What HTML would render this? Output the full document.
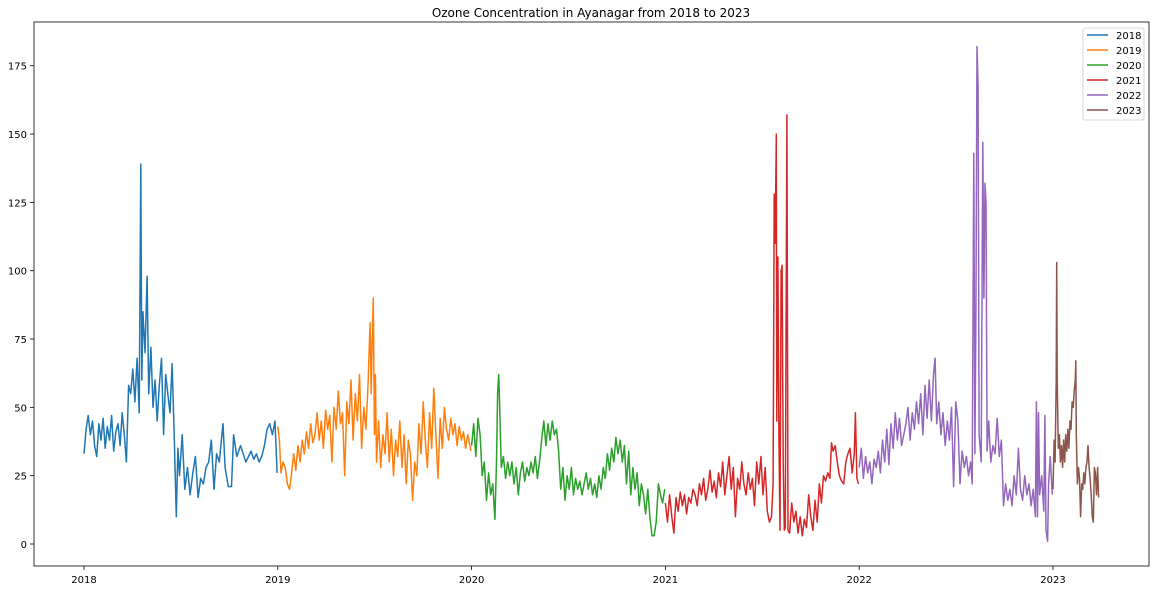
<!DOCTYPE html>
<html><head><meta charset="utf-8"><style>
body{margin:0;background:#fff;font-family:"Liberation Sans","DejaVu Sans",sans-serif;}
svg text{font-family:"DejaVu Sans","Liberation Sans",sans-serif;}
</style></head><body>
<svg id="chart" width="1156" height="590">
<text x="591" y="17" font-size="12" text-anchor="middle">Ozone Concentration in Ayanagar from 2018 to 2023</text>
<g id="axes"></g><g id="lines"></g>
<rect x="34" y="22" width="1115" height="544" fill="none" stroke="#000" stroke-width="0.8"/>
<g id="legend"></g>
</svg>
<script>
const years=["2018","2019","2020","2021","2022","2023"];
const colors=["#1f77b4","#ff7f0e","#2ca02c","#d62728","#9467bd","#8c564b"];
const yTicks=[0,25,50,75,100,125,150,175];
const days2018=[0,4,8,12,16,20,24,28,32,36,40,44,48,52,56,60,64,68,72,76,80,84,88,92,96,100,104,107,109,111,115,119,122,126,130,134,138,142,146,150,154,158,162,166,170,174,177,180,185,190,195,200,205,210,215,220,225,230,235,240,245,250,255,262,266,272,278,282,288,295,300,305,310,315,320,325,330,335,340,345,350,355,360,364];
const vals2018=[33,42,47,40,45,36,32,44,38,46,35,43,38,47,34,41,44,36,48,40,30,58,55,64,52,68,48,139,60,85,70,98,55,72,50,60,45,58,68,40,62,55,48,66,40,10,35,25,40,20,28,18,26,32,17,24,22,28,30,38,20,33,30,44,28,21,21,40,32,36,33,30,32,34,31,33,30,32,36,42,44,40,45,26];
const days2019=[0,3,6,10,14,18,22,26,30,34,38,42,46,50,54,58,62,66,70,74,78,82,86,90,94,98,102,106,110,114,118,122,126,130,134,138,142,146,150,154,158,162,166,170,172,174,176,178,180,182,184,186,190,194,198,202,206,210,214,218,222,226,230,234,238,242,246,250,254,258,262,266,270,274,278,282,286,290,294,298,302,306,310,314,318,322,326,330,334,338,342,346,350,354,358,364];
const vals2019=[43,38,26,30,28,22,20,26,33,27,36,30,38,33,41,35,44,37,40,48,38,45,35,49,42,47,30,50,42,56,44,48,25,52,44,60,38,55,45,62,35,50,42,58,70,81,55,75,90,40,62,30,45,28,40,33,48,30,42,25,38,32,45,28,40,22,38,33,16,30,25,44,33,52,38,28,48,35,57,40,24,46,35,50,42,38,46,40,44,36,43,38,41,35,40,34];
const days2020=[0,4,8,12,16,20,24,28,32,36,40,44,47,49,51,53,56,60,64,68,72,76,80,84,88,92,96,100,104,108,112,116,120,124,128,132,136,140,144,148,152,156,160,164,168,172,176,180,184,188,192,196,200,204,208,212,216,220,224,228,232,236,240,244,248,252,256,260,264,268,272,276,280,284,288,292,296,300,304,308,312,316,320,324,328,332,336,340,344,348,352,356,360,364];
const vals2020=[36,44,32,46,40,25,30,16,26,18,22,9,30,55,62,50,28,32,24,30,25,30,22,28,18,26,30,23,28,25,30,26,32,24,30,38,45,36,44,38,45,40,42,34,20,28,16,25,20,28,18,24,20,23,18,22,26,20,24,18,22,17,25,20,28,24,33,27,35,30,39,33,38,30,36,22,34,18,28,20,26,14,22,18,11,20,10,3,3,8,22,18,15,20];
const days2021=[0,4,8,12,16,20,24,28,32,36,40,44,48,52,56,60,64,68,72,76,80,84,88,92,96,100,104,108,112,116,120,124,128,132,136,140,144,148,152,156,160,164,168,172,176,180,184,188,192,196,200,203,205,207,209,210,212,214,216,218,220,222,224,226,229,231,234,238,242,246,250,254,258,262,266,270,274,278,282,286,290,294,298,302,306,310,313,316,320,324,328,332,336,340,344,348,352,356,358,361,364];
const vals2021=[15,8,18,10,4,17,12,19,14,18,11,17,15,20,18,14,22,18,24,16,20,27,19,23,17,26,21,30,18,25,32,20,28,10,24,20,30,22,18,26,20,24,14,30,22,32,18,28,12,8,10,22,128,110,150,45,105,40,5,100,102,30,5,6,157,5,4,15,8,12,4,10,3,9,6,18,10,5,16,8,22,15,25,23,26,24,37,34,36,30,25,23,22,30,33,35,26,33,48,24,22];
const days2022=[0,4,8,12,16,20,24,28,32,36,40,44,48,52,56,60,64,68,72,76,80,84,88,92,96,100,104,108,112,116,120,124,128,132,136,140,143,146,150,154,158,162,166,170,174,178,182,186,190,194,198,202,206,210,213,216,218,220,222,224,226,228,230,233,235,237,239,241,244,248,252,256,260,264,268,272,276,280,284,288,292,296,300,304,308,312,316,320,324,328,332,334,336,338,340,344,348,350,352,355,357,360,364];
const vals2022=[28,35,24,32,26,30,22,31,28,34,26,38,30,42,29,44,35,48,38,46,36,40,44,50,38,48,42,52,44,55,40,58,46,60,45,62,68,44,52,40,48,36,45,38,50,21,52,45,22,34,28,32,25,30,22,143,33,83,182,167,40,35,30,147,90,132,125,34,45,30,36,33,46,32,38,14,22,16,20,14,25,18,35,20,16,25,18,22,14,20,10,52,10,48,18,25,12,47,5,1,22,32,18];
const days2023=[0,2,4,6,7,8,10,12,14,16,18,20,22,24,26,28,30,32,34,36,38,40,42,43,44,46,48,50,52,54,56,58,60,62,64,66,68,70,72,74,76,78,80,82,84,86];
const vals2023=[20,38,30,60,103,60,35,40,30,36,28,38,30,40,34,42,35,45,42,52,50,56,60,67,40,22,28,24,10,22,20,26,22,28,30,36,28,24,18,10,8,28,26,18,28,17];
const allDays=[days2018,days2019,days2020,days2021,days2022,days2023];
const allVals=[vals2018,vals2019,vals2020,vals2021,vals2022,vals2023];
const ns="http://www.w3.org/2000/svg";
const X0=84,PXY=193.8;
function xScale(yi,d){return X0+(yi*365.25+d)*PXY/365.25;}
function yScale(v){return 544-v*2.733;}
const axes=document.getElementById('axes');
function mk(t,a,p){const e=document.createElementNS(ns,t);for(const k in a)e.setAttribute(k,a[k]);p.appendChild(e);return e;}
yTicks.forEach(v=>{const y=yScale(v);
 const t=mk('line',{x1:30,x2:34,y1:y,y2:y,stroke:'#000','stroke-width':0.8},axes);
 
 
 const l=mk('text',{x:27,y:y+4,'font-size':10,'text-anchor':'end'},axes);l.textContent=v;
 
 
});
years.forEach((yr,i)=>{const x=xScale(i,0);
 const t=mk('line',{x1:x,x2:x,y1:566,y2:570,stroke:'#000','stroke-width':0.8},axes);
 
 
 const l=mk('text',{x:x,y:583,'font-size':10,'text-anchor':'middle'},axes);l.textContent=yr;
 
 
});
const lines=document.getElementById('lines');
years.forEach((yr,i)=>{
 const pts=allDays[i].map((d,j)=>xScale(i,d).toFixed(1)+','+yScale(allVals[i][j]).toFixed(1)).join(' ');
 const p=mk('polyline',{points:pts,fill:'none',stroke:colors[i],'stroke-width':1.5,'stroke-linejoin':'round'},lines);
 
 
});
const lg=document.getElementById('legend');
const box=mk('rect',{x:1083,y:28,width:61,height:92,fill:'#fff',stroke:'#ccc','stroke-width':0.8,rx:2},lg);


years.forEach((yr,i)=>{const y=35+i*15;
 const l=mk('line',{x1:1087,x2:1108,y1:y,y2:y,stroke:colors[i],'stroke-width':1.5},lg);
 
 
 const t=mk('text',{x:1116,y:y+4,'font-size':10},lg);t.textContent=yr;
 
 
});
</script>
</body></html>
